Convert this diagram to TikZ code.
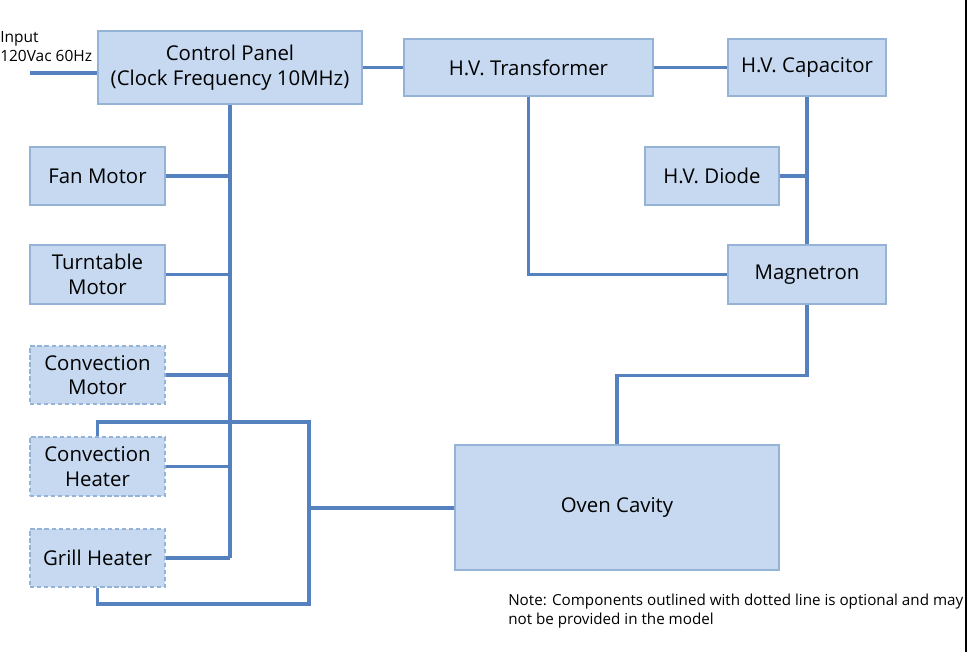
\documentclass[tikz,border=0pt]{standalone}
\usepackage{fontspec}
\setmainfont{Open Sans}
\usepackage{xcolor}
\usepackage{tikz}
\definecolor{boxfill}{HTML}{C6D9F1}
\definecolor{boxline}{HTML}{95B3D7}
\definecolor{wire}{HTML}{5581BE}

\tikzset{
    part/.style={draw=boxline, fill=boxfill, line width=0.9pt, align=center,
        font=\fontsize{14.5}{17.5}\selectfont, inner sep=2pt},
    optpart/.style={part, dash pattern=on 3pt off 2pt},
    wireline/.style={draw=wire, line width=2.4pt}
}

\begin{document}
\begin{tikzpicture}[x=0.025cm, y=-0.025cm]
                \useasboundingbox (0,0) rectangle (968,652);

                \node[part, minimum width=6.6cm, minimum height=1.825cm] (CP) at (230,67.5) {Control Panel\\(Clock Frequency 10MHz)};
                \node[part, minimum width=6.225cm, minimum height=1.425cm] (HVT) at (528.5,67.5) {H.V. Transformer};
                \node[part, minimum width=3.95cm, minimum height=1.425cm] (HVC) at (807,67.5) {H.V. Capacitor};
                \node[part, minimum width=3.35cm, minimum height=1.45cm] (HVD) at (712,176) {H.V. Diode};
                \node[part, minimum width=3.95cm, minimum height=1.475cm] (MG) at (807,274.5) {Magnetron};
                \node[part, minimum width=8.1cm, minimum height=3.125cm] (OC) at (617,507.5) {Oven Cavity};

                \node[part, minimum width=3.375cm, minimum height=1.45cm] (FM) at (97.5,176) {Fan Motor};
                \node[part, minimum width=3.375cm, minimum height=1.475cm] (TM) at (97.5,274.5) {Turntable\\Motor};
                \node[optpart, minimum width=3.375cm, minimum height=1.45cm] (CM) at (97.5,375) {Convection\\Motor};
                \node[optpart, minimum width=3.375cm, minimum height=1.475cm] (CH) at (97.5,466.5) {Convection\\Heater};
                \node[optpart, minimum width=3.375cm, minimum height=1.45cm] (GH) at (97.5,558) {Grill Heater};

                \node[anchor=north west, align=left, inner sep=0pt, font=\fontsize{11}{13.5}\selectfont] (INtxt) at (0,31) {Input\\120Vac 60Hz};
                \node[anchor=north west, align=left, inner sep=0pt, font=\fontsize{10.8}{13.5}\selectfont] (NOTE) at (508,594) {Note: Components outlined with dotted line is optional and may\\not be provided in the model};

                \coordinate (IN) at (30,73);
                \coordinate (LT) at (309,422);
                \coordinate (LB) at (309,604);
                \coordinate (LJ) at (309,508);

                % supply and high voltage side
                \draw[wireline] (IN) -- (IN -| CP.west);
                \draw[wireline] (CP.east |- HVT.west) -- (HVT.west);
                \draw[wireline] (HVT.east) -- (HVC.west);
                \draw[wireline] (HVC.south) -- (MG.north);
                \draw[wireline] (HVD.east) -- (HVD.east -| HVC.south);
                \draw[wireline] (HVT.south) |- (MG.west);
                \draw[wireline] (MG.south) -- ++(0,71) -| (OC.north);

                % control bus
                \draw[wireline] (CP.south) -- (CP.south |- GH.east);
                \draw[wireline] (FM.east) -- (FM.east -| CP.south);
                \draw[wireline] (TM.east) -- (TM.east -| CP.south);
                \draw[wireline] (CM.east) -- (CM.east -| CP.south);
                \draw[wireline] (CH.east) -- (CH.east -| CP.south);
                \draw[wireline] (GH.east) -- (GH.east -| CP.south);

                % heaters to cavity
                \draw[wireline] (CH.north) |- (LT) -- (LB) -| (GH.south);
                \draw[wireline] (LJ) -- (LJ -| OC.west);

                \draw[black, line width=1.1pt] (966,0) -- (966,652);
            \end{tikzpicture}
\end{document}
